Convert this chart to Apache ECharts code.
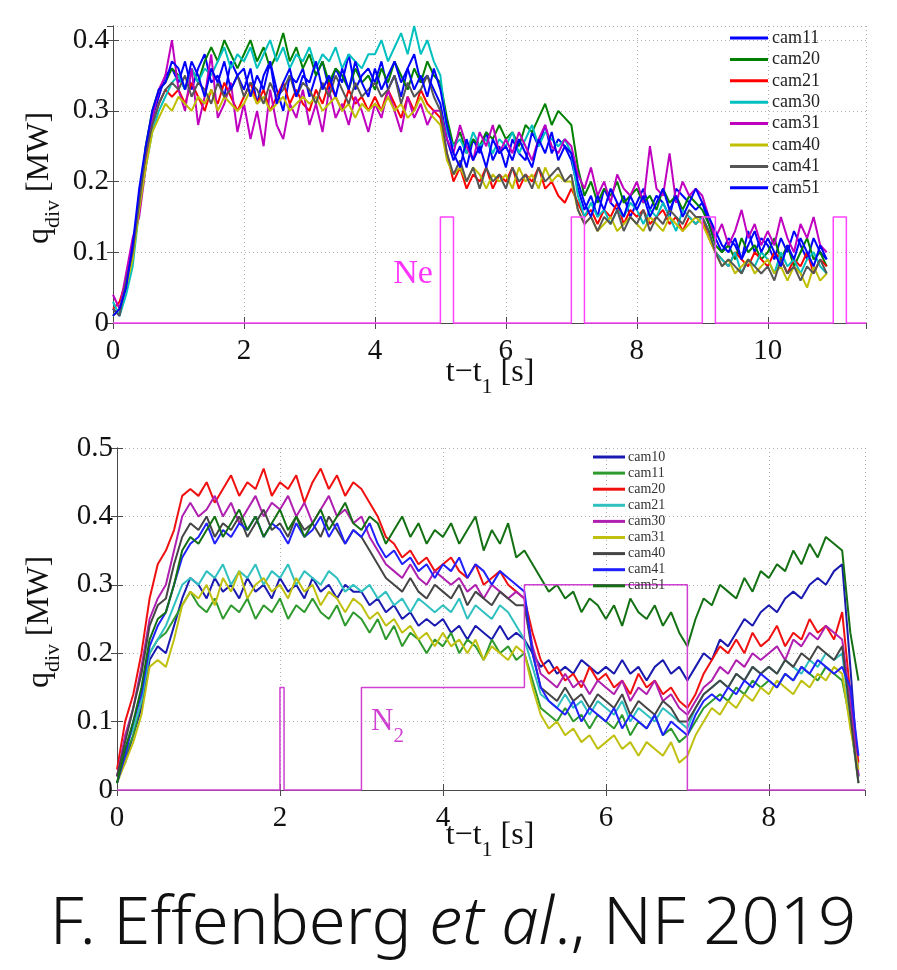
<!DOCTYPE html>
<html><head><meta charset="utf-8">
<script src="https://cdn.jsdelivr.net/npm/echarts@6/dist/echarts.min.js"></script>
<style>html,body{margin:0;padding:0;background:#fff}#c{width:897px;height:970px}</style>
</head><body><div id="c"></div>
<script>
// ---------- TOP PANEL (Ne seeding) ----------
const tTop = [0,0.1,0.2,0.3,0.4,0.5,0.6,0.7,0.8,0.9,
1,1.1,1.2,1.3,1.4,1.5,1.6,1.7,1.8,1.9,
2,2.1,2.2,2.3,2.4,2.5,2.6,2.7,2.8,2.9,
3,3.1,3.2,3.3,3.4,3.5,3.6,3.7,3.8,3.9,
4,4.1,4.2,4.3,4.4,4.5,4.6,4.7,4.8,4.9,
5,5.1,5.2,5.3,5.4,5.5,5.6,5.7,5.8,5.9,
6,6.1,6.2,6.3,6.4,6.5,6.6,6.7,6.8,6.9,
7,7.1,7.2,7.3,7.4,7.5,7.6,7.7,7.8,7.9,
8,8.1,8.2,8.3,8.4,8.5,8.6,8.7,8.8,8.9,
9,9.1,9.2,9.3,9.4,9.5,9.6,9.7,9.8,9.9,
10,10.1,10.2,10.3,10.4,10.5,10.6,10.7,10.8,10.9];

const top_cam11 = [.02,.01,.06,.10,.18,.24,.29,.32,.35,.36,
.34,.37,.33,.36,.38,.34,.35,.32,.37,.35,
.33,.36,.31,.35,.37,.33,.30,.35,.34,.36,
.32,.35,.37,.33,.36,.34,.38,.33,.35,.36,
.34,.37,.33,.35,.32,.36,.38,.34,.35,.33,
.31,.26,.23,.25,.22,.26,.24,.27,.23,.25,
.22,.26,.24,.23,.27,.25,.28,.24,.26,.25,
.23,.19,.16,.18,.15,.19,.17,.16,.18,.15,
.17,.19,.16,.18,.17,.15,.19,.18,.17,.16,
.17,.14,.12,.10,.12,.11,.09,.13,.10,.12,
.11,.09,.12,.10,.13,.11,.09,.12,.10,.09];
const top_cam20 = [.01,.02,.05,.11,.17,.25,.30,.33,.34,.36,
.35,.33,.36,.34,.37,.39,.37,.40,.38,.36,
.38,.40,.37,.39,.36,.38,.41,.37,.39,.36,
.38,.35,.37,.34,.36,.35,.33,.36,.34,.35,
.33,.36,.34,.37,.35,.33,.36,.34,.37,.35,
.34,.29,.25,.27,.24,.26,.25,.27,.26,.28,
.26,.27,.25,.28,.27,.29,.31,.28,.30,.29,
.28,.22,.18,.20,.17,.19,.18,.20,.17,.18,
.19,.17,.18,.16,.19,.17,.18,.16,.18,.17,
.16,.14,.11,.10,.11,.09,.12,.10,.11,.09,
.10,.12,.09,.11,.08,.10,.12,.09,.10,.08];
const top_cam21 = [.02,.03,.06,.09,.17,.23,.28,.31,.33,.32,
.33,.31,.34,.32,.30,.33,.31,.34,.32,.30,
.32,.34,.31,.33,.30,.32,.34,.31,.33,.31,
.30,.33,.31,.34,.32,.30,.33,.31,.32,.30,
.32,.30,.33,.31,.29,.32,.30,.33,.31,.30,
.29,.24,.20,.22,.19,.21,.20,.22,.19,.21,
.20,.22,.19,.21,.20,.22,.19,.20,.18,.17,
.19,.17,.15,.16,.14,.16,.15,.17,.14,.16,
.15,.16,.14,.15,.16,.14,.15,.13,.15,.14,
.15,.12,.10,.09,.08,.10,.09,.08,.10,.09,
.08,.10,.09,.07,.09,.08,.10,.07,.09,.08];
const top_cam30 = [.03,.01,.04,.08,.16,.22,.27,.30,.32,.34,
.35,.33,.36,.34,.36,.35,.37,.39,.36,.38,
.37,.39,.36,.38,.40,.37,.39,.36,.38,.37,
.39,.36,.38,.37,.39,.36,.38,.37,.36,.38,
.38,.40,.37,.39,.41,.38,.42,.38,.40,.37,
.35,.27,.25,.26,.24,.27,.25,.26,.24,.26,
.25,.27,.24,.26,.28,.25,.27,.26,.25,.26,
.24,.18,.15,.17,.15,.16,.14,.16,.15,.17,
.16,.14,.16,.15,.17,.15,.13,.16,.15,.14,
.15,.13,.10,.09,.08,.10,.07,.09,.08,.10,
.09,.07,.10,.08,.09,.07,.09,.10,.08,.07];
const top_cam31 = [.04,.02,.07,.12,.15,.22,.29,.33,.35,.40,
.33,.30,.36,.28,.32,.38,.29,.31,.34,.27,
.31,.26,.30,.25,.33,.28,.26,.31,.29,.33,
.28,.31,.27,.33,.29,.31,.28,.32,.30,.27,
.31,.29,.33,.30,.27,.32,.29,.31,.28,.30,
.30,.26,.24,.28,.25,.23,.27,.25,.28,.24,
.26,.24,.27,.25,.23,.26,.28,.25,.24,.26,
.25,.21,.19,.22,.18,.20,.17,.21,.19,.18,
.20,.17,.25,.19,.18,.24,.17,.20,.18,.19,
.18,.15,.12,.14,.11,.13,.16,.12,.14,.11,
.13,.11,.15,.12,.10,.14,.12,.15,.11,.10];
const top_cam40 = [.01,.02,.05,.09,.16,.22,.27,.29,.31,.30,
.32,.31,.30,.32,.31,.33,.30,.32,.31,.30,
.31,.33,.31,.32,.30,.31,.32,.30,.31,.32,
.31,.32,.30,.31,.32,.30,.31,.29,.31,.30,
.31,.30,.32,.30,.31,.29,.30,.32,.30,.29,
.28,.23,.21,.22,.20,.22,.21,.19,.21,.20,
.21,.19,.22,.20,.21,.19,.22,.20,.21,.20,
.20,.16,.14,.15,.13,.14,.15,.13,.14,.15,
.14,.13,.15,.14,.13,.15,.14,.13,.14,.15,
.14,.12,.10,.08,.09,.07,.08,.09,.07,.08,
.09,.07,.08,.06,.08,.07,.05,.08,.06,.07];
const top_cam41 = [.02,.01,.06,.10,.17,.24,.28,.31,.33,.34,
.33,.35,.32,.34,.33,.31,.34,.32,.33,.35,
.32,.34,.33,.31,.34,.32,.33,.35,.32,.34,
.33,.31,.34,.32,.35,.33,.31,.34,.32,.33,
.34,.32,.33,.35,.31,.34,.32,.33,.35,.32,
.30,.24,.21,.23,.20,.22,.19,.22,.20,.21,
.19,.22,.20,.21,.19,.22,.20,.21,.22,.20,
.21,.16,.14,.15,.13,.15,.14,.16,.13,.15,
.14,.16,.13,.15,.14,.16,.15,.14,.16,.15,
.15,.13,.10,.08,.09,.08,.07,.09,.08,.07,
.08,.06,.09,.07,.08,.06,.08,.07,.09,.07];
const top_cam51 = [.01,.02,.05,.11,.19,.25,.30,.33,.34,.37,
.36,.33,.37,.35,.32,.36,.34,.37,.33,.35,
.36,.32,.35,.33,.37,.31,.34,.36,.32,.35,
.34,.37,.33,.35,.32,.36,.33,.37,.34,.32,
.36,.33,.35,.37,.34,.36,.33,.35,.32,.36,
.33,.28,.24,.22,.26,.23,.25,.22,.26,.24,
.25,.23,.26,.24,.22,.26,.24,.27,.23,.25,
.24,.20,.17,.15,.18,.16,.19,.17,.15,.18,
.16,.18,.15,.17,.19,.16,.18,.15,.17,.19,
.17,.15,.13,.11,.10,.12,.09,.11,.13,.10,
.12,.10,.08,.11,.09,.12,.10,.08,.11,.09];

const neTime = [0,5.0,5.0,5.2,5.2,7.0,7.0,7.2,7.2,9.0,9.0,9.2,9.2,11.0,11.0,11.2,11.2,11.5];
const neVal  = [0,0,0.15,0.15,0,0,0.15,0.15,0,0,0.15,0.15,0,0,0.15,0.15,0,0];

const topNames  = ['cam11','cam20','cam21','cam30','cam31','cam40','cam41','cam51'];
const topColors = ['#0000ff','#008000','#ff0000','#00bfbf','#bf00bf','#bfbf00','#555555','#0000ff'];
const topVals   = [top_cam11,top_cam20,top_cam21,top_cam30,top_cam31,top_cam40,top_cam41,top_cam51];

// ---------- BOTTOM PANEL (N2 seeding) ----------
const tBot = [0,0.1,0.2,0.3,0.4,0.5,0.6,0.7,0.8,0.9,
1,1.1,1.2,1.3,1.4,1.5,1.6,1.7,1.8,1.9,
2,2.1,2.2,2.3,2.4,2.5,2.6,2.7,2.8,2.9,
3,3.1,3.2,3.3,3.4,3.5,3.6,3.7,3.8,3.9,
4,4.1,4.2,4.3,4.4,4.5,4.6,4.7,4.8,4.9,
5,5.1,5.2,5.3,5.4,5.5,5.6,5.7,5.8,5.9,
6,6.1,6.2,6.3,6.4,6.5,6.6,6.7,6.8,6.9,
7,7.1,7.2,7.3,7.4,7.5,7.6,7.7,7.8,7.9,
8,8.1,8.2,8.3,8.4,8.5,8.6,8.7,8.8,8.9,
9,9.1];

const bot_cam10 = [.02,.04,.08,.12,.19,.21,.20,.24,.28,.31,
.30,.28,.31,.29,.30,.28,.31,.29,.30,.28,
.31,.29,.30,.28,.31,.29,.30,.28,.30,.29,
.29,.27,.28,.26,.27,.25,.26,.24,.25,.24,
.25,.23,.24,.22,.24,.23,.22,.24,.22,.23,
.22,.20,.18,.19,.17,.18,.17,.19,.18,.17,
.18,.17,.19,.17,.18,.16,.18,.19,.17,.18,
.16,.18,.20,.19,.22,.21,.23,.25,.24,.26,
.27,.26,.28,.29,.28,.30,.31,.30,.32,.33,
.18,.02];
const bot_cam11 = [.01,.05,.08,.13,.20,.22,.23,.25,.27,.29,
.27,.26,.28,.25,.27,.26,.28,.25,.27,.26,
.28,.25,.27,.26,.28,.26,.25,.27,.24,.26,
.25,.23,.25,.22,.24,.21,.23,.22,.20,.22,
.21,.23,.20,.22,.21,.19,.22,.20,.21,.19,
.20,.16,.12,.11,.10,.12,.10,.11,.09,.11,
.10,.09,.11,.08,.10,.09,.11,.08,.09,.07,
.08,.10,.12,.13,.14,.13,.15,.14,.16,.15,
.16,.15,.17,.16,.18,.17,.16,.18,.17,.16,
.10,.01];
const bot_cam20 = [.03,.10,.14,.20,.28,.33,.35,.38,.43,.44,
.43,.45,.42,.44,.46,.43,.45,.44,.47,.43,
.45,.44,.46,.42,.45,.47,.44,.46,.43,.45,
.44,.42,.40,.37,.36,.34,.35,.33,.34,.32,
.33,.34,.32,.31,.33,.30,.31,.32,.30,.29,
.28,.23,.19,.17,.18,.16,.17,.15,.18,.16,
.17,.15,.16,.14,.17,.15,.16,.14,.15,.13,
.12,.14,.17,.19,.21,.20,.22,.20,.23,.21,
.22,.24,.21,.23,.22,.25,.23,.24,.22,.26,
.14,.04];
const bot_cam21 = [.02,.06,.09,.13,.20,.22,.24,.27,.30,.31,
.30,.32,.31,.33,.30,.32,.31,.33,.30,.32,
.31,.33,.30,.32,.31,.30,.32,.31,.29,.30,
.29,.30,.28,.29,.27,.28,.26,.28,.27,.26,
.27,.26,.28,.25,.27,.26,.25,.27,.26,.24,
.22,.18,.14,.13,.12,.14,.12,.13,.11,.13,
.12,.11,.13,.10,.12,.11,.10,.12,.11,.10,
.09,.12,.14,.15,.16,.15,.17,.16,.18,.17,
.18,.17,.19,.18,.17,.19,.18,.20,.19,.20,
.10,.02];
const bot_cam30 = [.02,.08,.12,.18,.25,.28,.30,.35,.40,.42,
.40,.41,.43,.40,.42,.39,.41,.43,.40,.42,
.41,.43,.40,.42,.39,.41,.43,.40,.41,.39,
.40,.37,.35,.33,.32,.31,.33,.31,.30,.32,
.31,.30,.31,.29,.30,.28,.30,.29,.28,.29,
.28,.21,.17,.16,.15,.17,.15,.16,.14,.16,
.15,.14,.16,.13,.15,.14,.16,.13,.14,.12,
.11,.13,.15,.16,.18,.17,.19,.18,.20,.19,
.20,.21,.19,.22,.21,.23,.22,.24,.23,.22,
.13,.02];
const bot_cam31 = [.01,.04,.07,.11,.18,.19,.18,.22,.27,.29,
.28,.30,.27,.31,.29,.32,.28,.30,.31,.29,
.30,.28,.31,.29,.30,.27,.29,.28,.26,.28,
.27,.25,.26,.24,.25,.23,.24,.22,.23,.21,
.23,.21,.22,.20,.22,.19,.21,.20,.19,.21,
.20,.15,.11,.09,.10,.08,.09,.07,.08,.06,
.07,.08,.06,.07,.05,.07,.06,.05,.07,.04,
.05,.08,.10,.12,.11,.13,.12,.14,.13,.15,
.14,.16,.15,.14,.16,.15,.17,.16,.18,.17,
.09,.03];
const bot_cam40 = [.02,.07,.12,.17,.24,.27,.28,.33,.37,.39,
.38,.40,.37,.39,.38,.40,.37,.39,.41,.38,
.39,.37,.40,.38,.39,.37,.40,.38,.36,.38,
.37,.35,.33,.31,.30,.29,.31,.29,.28,.30,
.29,.28,.30,.27,.29,.28,.27,.29,.28,.27,
.27,.20,.15,.14,.13,.15,.13,.14,.12,.14,
.13,.12,.14,.11,.13,.12,.11,.13,.12,.10,
.10,.12,.14,.15,.16,.15,.17,.16,.18,.17,
.18,.17,.19,.18,.20,.19,.21,.20,.19,.21,
.11,.01];
const bot_cam41 = [.01,.05,.10,.14,.21,.24,.26,.30,.34,.36,
.37,.39,.36,.38,.37,.39,.38,.40,.37,.39,
.38,.36,.39,.37,.38,.40,.37,.39,.36,.38,
.37,.39,.36,.34,.35,.33,.34,.32,.33,.31,
.33,.32,.34,.31,.33,.32,.30,.32,.31,.30,
.29,.20,.15,.13,.12,.11,.13,.10,.12,.11,
.10,.12,.09,.11,.10,.09,.11,.08,.10,.09,
.08,.11,.13,.14,.13,.15,.14,.16,.15,.17,
.16,.15,.17,.16,.18,.17,.19,.18,.17,.18,
.15,.05];
const bot_cam51 = [.01,.06,.10,.15,.22,.25,.26,.30,.35,.37,
.36,.38,.40,.37,.39,.41,.38,.40,.37,.39,
.41,.38,.40,.37,.39,.41,.38,.40,.42,.39,
.38,.40,.39,.36,.38,.40,.37,.39,.36,.38,
.37,.39,.36,.38,.40,.35,.38,.36,.39,.34,
.35,.33,.31,.29,.30,.28,.29,.26,.28,.27,
.25,.27,.24,.28,.26,.25,.27,.24,.26,.23,
.21,.25,.28,.27,.30,.29,.28,.31,.29,.32,
.31,.33,.32,.35,.33,.36,.34,.37,.36,.35,
.23,.16];

const n2Time = [0,2.0,2.0,2.05,2.05,3.0,3.0,5.0,5.0,7.0,7.0,9.18];
const n2Val  = [0,0,0.15,0.15,0,0,0.15,0.15,0.30,0.30,0,0];

const botNames  = ['cam10','cam11','cam20','cam21','cam30','cam31','cam40','cam41','cam51'];
const botColors = ['#1a1ab0','#2e9a2e','#f01010','#30c0c0','#b020b0','#c0c010','#454545','#2020ff','#137013'];
const botVals   = [bot_cam10,bot_cam11,bot_cam20,bot_cam21,bot_cam30,bot_cam31,bot_cam40,bot_cam41,bot_cam51];

// ---------- CHART ----------
const SERIF = 'Liberation Serif';
const chart = echarts.init(document.getElementById('c'), null, {renderer:'canvas'});

function pair(t, v){ return t.map((x,i)=>[x, v[i]]); }
function trace(id, name, t, v, color, gi){
  return {id, name, type:'line', xAxisIndex:gi*2, yAxisIndex:gi*2, data:pair(t,v),
    symbol:'none', showSymbol:false, animation:false, silent:true,
    lineStyle:{color, width:2}, itemStyle:{color}};
}
const series = [];
topNames.forEach((n,i)=>series.push(trace('top_'+n, n, tTop, topVals[i], topColors[i], 0)));
series.push({name:'Ne', type:'line', xAxisIndex:0, yAxisIndex:0, data:pair(neTime, neVal),
  symbol:'none', animation:false, silent:true, clip:false, lineStyle:{color:'#ff44ff', width:1.5}, z:3});
botNames.forEach((n,i)=>series.push(trace('bot_'+n, n, tBot, botVals[i], botColors[i], 1)));
series.push({name:'N2', type:'line', xAxisIndex:2, yAxisIndex:2, data:pair(n2Time, n2Val),
  symbol:'none', animation:false, silent:true, clip:false, lineStyle:{color:'#d040d0', width:1.5}, z:3});

const axLine = {show:true, lineStyle:{color:'#4a4a4a', width:1}};
const tick = {show:true, inside:true, length:6, lineStyle:{color:'#4a4a4a'}};
const split = {show:true, lineStyle:{color:'#b0b0b0', type:[1,3], width:1}};
const lab = {fontFamily:SERIF, fontSize:29, color:'#111'};

function xMain(gi, max, showMax){
  return {type:'value', gridIndex:gi, position:'bottom', min:0, max, interval:2,
    axisLine:axLine, axisTick:tick, splitLine:split,
    axisLabel:Object.assign({margin:14, showMaxLabel:showMax}, lab)};
}
function xTop(gi, max){
  return {type:'value', gridIndex:gi, position:'top', min:0, max, interval:2,
    axisLine:axLine, axisTick:tick, splitLine:{show:false}, axisLabel:{show:false}};
}
function yMain(gi, max, showMax){
  return {type:'value', gridIndex:gi, position:'left', min:0, max, interval:0.1,
    axisLine:axLine, axisTick:tick, splitLine:split,
    axisLabel:Object.assign({margin:4, showMaxLabel:showMax}, lab)};
}
function yRight(gi, max){
  return {type:'value', gridIndex:gi, position:'right', min:0, max, interval:0.1,
    axisLine:axLine, axisTick:tick, splitLine:{show:false}, axisLabel:{show:false}};
}

const legendBase = {orient:'vertical', icon:'rect', selectedMode:false, padding:0,
  backgroundColor:'transparent'};
function legItems(names, colors){
  return names.map((n,i)=>({name:n, icon:'rect', itemStyle:{color:colors[i], borderWidth:0}}));
}

const subStyle = (size, pad, color)=>({fontFamily:SERIF, fontSize:size, fill:color, padding:[pad,0,0,0]});

chart.setOption({
  animation:false,
  backgroundColor:'#ffffff',
  grid:[
    {left:113, top:26, width:753, height:297},
    {left:117, top:448, width:748, height:342}
  ],
  xAxis:[xMain(0,11.5,false), xTop(0,11.5), xMain(1,9.18,false), xTop(1,9.18)],
  yAxis:[yMain(0,0.42,false), yRight(0,0.42), yMain(1,0.5,true), yRight(1,0.5)],
  legend:[
    Object.assign({}, legendBase, {data:legItems(topNames, topColors), left:730, top:29,
      itemWidth:38, itemHeight:3, itemGap:3.4,
      textStyle:{fontFamily:SERIF, fontSize:18, color:'#222', lineHeight:18, padding:[0,0,0,-1]}}),
    Object.assign({}, legendBase, {data:legItems(botNames, botColors), left:593, top:450,
      itemWidth:32, itemHeight:3, itemGap:2.1,
      textStyle:{fontFamily:SERIF, fontSize:14, color:'#333', lineHeight:13.3, padding:[0,0,0,-2]}})
  ],
  series,
  graphic:[
    {type:'text', x:40, y:178, rotation:Math.PI/2, silent:true,
      style:{text:'q{sub|div} [MW]', fontFamily:SERIF, fontSize:32, fill:'#111',
        align:'center', verticalAlign:'middle', textAlign:'center', textVerticalAlign:'middle',
        rich:{sub:subStyle(22, 26, '#111')}}},
    {type:'text', x:40, y:622, rotation:Math.PI/2, silent:true,
      style:{text:'q{sub|div} [MW]', fontFamily:SERIF, fontSize:32, fill:'#111',
        align:'center', verticalAlign:'middle', textAlign:'center', textVerticalAlign:'middle',
        rich:{sub:subStyle(22, 26, '#111')}}},
    {type:'text', x:490, y:373, silent:true,
      style:{text:'t\u2212t{sub|1} [s]', fontFamily:SERIF, fontSize:32, fill:'#111',
        align:'center', verticalAlign:'middle', textAlign:'center', textVerticalAlign:'middle',
        rich:{sub:subStyle(22, 28, '#111')}}},
    {type:'text', x:490, y:836, silent:true,
      style:{text:'t\u2212t{sub|1} [s]', fontFamily:SERIF, fontSize:32, fill:'#111',
        align:'center', verticalAlign:'middle', textAlign:'center', textVerticalAlign:'middle',
        rich:{sub:subStyle(22, 28, '#111')}}},
    {type:'text', x:413, y:274, silent:true,
      style:{text:'Ne', fontFamily:SERIF, fontSize:34, fill:'#ff33ff',
        align:'center', verticalAlign:'middle', textAlign:'center', textVerticalAlign:'middle'}},
    {type:'text', x:371, y:722, silent:true,
      style:{text:'N{sub|2}', fontFamily:SERIF, fontSize:31, fill:'#d040d0',
        align:'left', verticalAlign:'middle', textAlign:'left', textVerticalAlign:'middle',
        rich:{sub:subStyle(21, 28, '#d040d0')}}},
    {type:'text', x:453, y:925, scaleX:1.0, silent:true,
      style:{text:'F. Effenberg {it|et al}., NF 2019', fontFamily:'Noto Sans', fontWeight:300, fontSize:67, fill:'#111',
        align:'center', verticalAlign:'middle', textAlign:'center', textVerticalAlign:'middle',
        rich:{it:{fontFamily:'Noto Sans', fontWeight:300, fontSize:67, fontStyle:'italic', fill:'#111'}}}}
  ]
});
</script>
</body></html>
